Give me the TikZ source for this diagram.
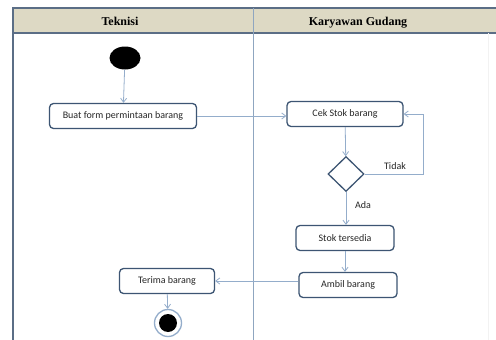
\documentclass[tikz,border=0pt]{standalone}
\usepackage{fontspec}
\setmainfont{Liberation Serif}
\newfontfamily\boxfont{Carlito}
\usetikzlibrary{shapes.geometric,arrows.meta}
\definecolor{headfill}{HTML}{DDD9C4}
\definecolor{framec}{HTML}{5B6E86}
\definecolor{boxedge}{HTML}{3D5573}
\definecolor{flowc}{HTML}{94ADCB}
\definecolor{lanec}{HTML}{8FA6C0}
\tikzset{
  act/.style={draw=boxedge, line width=1.3pt, rounded corners=4pt, fill=white,
    minimum height=25pt, inner sep=0pt, font=\boxfont\fontsize{10}{12}\selectfont, text=black!85},
  flow/.style={draw=flowc, line width=0.8pt, -{Straight Barb[length=4pt,width=6pt]}},
  lbl/.style={font=\boxfont\fontsize{10}{12}\selectfont, text=black!85, inner sep=0pt},
  headtxt/.style={font=\bfseries\fontsize{12}{14}\selectfont, inner sep=0pt, anchor=base}
}
\begin{document}
\begin{tikzpicture}[x=1pt,y=-1pt]
\useasboundingbox (0,0) rectangle (496,340);
\fill[white] (0,0) rectangle (496,340);
% swimlane header
\fill[headfill] (13,8) rectangle (496,33);
\draw[framec, line width=1.4pt] (496,8) -- (13,8) -- (13,340);
\draw[framec, line width=1.4pt] (13,33) -- (496,33);
\draw[lanec, line width=0.7pt] (253,8) -- (253,340);
\draw[black!5, line width=0.6pt] (488,33) -- (488,340);
\node[headtxt] (h1) at (120,26) {Teknisi};
\node[headtxt] (h2) at (358,26) {Karyawan Gudang};
% activity nodes
\node[ellipse, fill=black, minimum width=31pt, minimum height=23pt, inner sep=0pt] (start) at (125,58) {};
\node[act, minimum width=147pt] (form) at (123,116) {Buat form permintaan barang};
\node[act, minimum width=116pt] (cek) at (345,114) {Cek Stok barang};
\node[diamond, draw=boxedge, line width=1.3pt, fill=white, minimum width=36pt, minimum height=35pt, inner sep=0pt] (dec) at (346,174) {};
\node[act, minimum width=98pt] (stok) at (345,238) {Stok tersedia};
\node[act, minimum width=98pt] (ambil) at (348,285) {Ambil barang};
\node[act, minimum width=95pt] (terima) at (167,281) {Terima barang};
\node[circle, draw=flowc, line width=1.3pt, fill=white, minimum size=27pt, inner sep=0pt] (end) at (168,323) {};
\node[circle, fill=black, minimum size=18pt, inner sep=0pt] (endcore) at (end) {};
% control flows
\draw[flow] (start) -- (form);
\draw[flow] (form.east) -- (cek.west |- form.east);
\draw[flow] (cek) -- (dec);
\coordinate (loopa) at (423,174);
\coordinate (loopb) at (423,114);
\draw[flow] (dec.east) -- (loopa) -- (loopb) -- (cek.east);
\node[lbl] (tidak) at (395,166) {Tidak};
\draw[flow] (dec.south) -- (dec.south |- stok.north);
\node[lbl] (ada) at (363,205) {Ada};
\draw[flow] (stok.south) -- (stok.south |- ambil.north);
\draw[flow] (ambil.west |- terima.east) -- (terima.east);
\draw[flow] (terima) -- (end);
\end{tikzpicture}
\end{document}
